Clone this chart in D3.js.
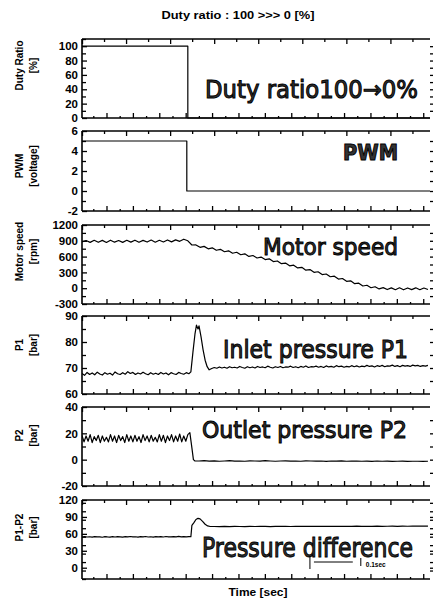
<!DOCTYPE html>
<html><head><meta charset="utf-8">
<script src="https://cdn.jsdelivr.net/npm/d3@7"></script>
<style>body{margin:0;background:#fff}svg{display:block}</style>
</head><body>
<svg id="c" width="433" height="603"></svg>
<script>
// ---------- DATA ----------
const timeDomain = [0, 0.684];           // seconds
const scaleBarT = [0.448, 0.548];         // 0.1 sec bar

const dutyT = [0, 0.208, 0.208, 0.684];
const dutyV = [100, 100, 0, 0];

const pwmT = [0, 0.206, 0.206, 0.684];
const pwmV = [5, 5, 0, 0];

// motor speed sampled every 0.008 s from t=0
const motorDt = 0.008;
const motorV = [880, 905, 870, 910, 872, 908, 868, 912, 874, 906, 870, 910, 875, 912, 872, 908, 876, 914, 874, 910,
  878, 916, 880, 918, 890, 930, 900, 820,
  821, 776, 794, 748, 766, 720, 738, 692, 710, 664, 682, 635, 652, 604, 621, 574, 591, 544, 557, 505, 517, 465,
  477, 425, 437, 385, 396, 343, 354, 301, 312, 259, 270, 217, 228, 174, 184, 130, 140, 86, 96, 42,
  56, 9, 28, -14, 11, -26, 6, -28, 8, -30, 5, -27, 7, -29, 4, -25];

// inlet pressure P1
const p1PreDt = 0.005;
const p1Pre = [67.9, 67.2, 68.3, 67.5, 68.1, 67.4, 68.4, 67.7, 67.3, 68.2, 67.6, 68.0, 67.3, 68.5, 67.8, 67.5, 68.2, 67.6, 68.6, 67.9,
  68.3, 67.5, 68.1, 67.7, 68.4, 67.8, 67.4, 68.2, 67.6, 68.0, 67.5, 68.3, 67.7, 68.1, 67.4, 68.2, 67.8, 67.5, 68.3, 67.9,
  67.6, 68.2, 67.8];
const p1PeakT = [0.214, 0.218, 0.222, 0.225, 0.228, 0.230, 0.234, 0.238, 0.242, 0.246, 0.250];
const p1PeakV = [68.5, 76, 83, 86.5, 85, 86.2, 82, 77, 73, 70.5, 69.3];
const p1PostT0 = 0.255, p1PostDt = 0.005;
const p1Post = [69.8, 70.2, 69.9, 70.4, 70.0, 70.3, 69.9, 70.5, 70.1, 70.3, 70.0, 70.6, 70.2, 69.9, 70.5, 70.1, 70.4, 70.0, 70.6, 70.2,
  70.4, 70.1, 70.7, 70.3, 70.0, 70.5, 70.2, 70.6, 70.1, 70.4, 70.3, 70.7, 70.2, 70.5, 70.1, 70.6, 70.3, 70.8, 70.2, 70.5,
  70.4, 70.7, 70.3, 70.6, 70.2, 70.8, 70.4, 70.6, 70.3, 70.9, 70.5, 70.7, 70.3, 70.6, 70.4, 70.9, 70.5, 70.8, 70.4, 70.7,
  70.5, 71.0, 70.6, 70.8, 70.4, 70.9, 70.6, 71.0, 70.5, 70.8, 70.7, 71.1, 70.6, 70.9, 70.5, 71.0, 70.7, 70.9, 70.6, 71.1,
  70.8, 71.0, 70.6, 70.9, 70.7, 71.0];

// outlet pressure P2
const p2PreDt = 0.004;
const p2Pre = [18.5, 13.5, 18, 14, 19, 13, 17.5, 14.5, 18.5, 13, 18, 14, 17, 13.5, 19, 14, 18, 13, 18.5, 14.5,
  17.5, 13, 19, 14, 18, 13.5, 18.5, 14, 17.5, 13, 19, 14.5, 18, 13.5, 18.5, 14, 17, 13.5, 19, 14,
  18.5, 13, 18, 14.5, 19, 13.5, 18, 14, 19.5, 13.5, 18, 14, 19];
const p2DropT = [0.212, 0.216, 0.219, 0.222];
const p2DropV = [20.5, 9, 0, -1];
const p2PostT0 = 0.23, p2PostDt = 0.01;
const p2Post = [-1.0, -0.8, -1.1, -0.9, -1.2, -1.0, -0.8, -1.1, -1.0, -1.2, -0.9, -1.0, -1.1, -0.8, -1.0, -1.2, -1.0, -0.9, -1.1, -1.0,
  -1.2, -0.9, -1.0, -1.1, -1.0, -1.3, -1.0, -1.1, -0.9, -1.2, -1.1, -1.0, -1.2, -1.1, -1.3, -1.0, -1.2, -1.1, -1.3, -1.2,
  -1.1, -1.3, -1.2, -1.2, -1.3, -1.2];

// pressure difference P1-P2
const dpPreDt = 0.005;
const dpPre = [54.2, 55.0, 54.4, 54.9, 54.1, 55.2, 54.5, 54.8, 54.0, 55.1, 54.6, 54.3, 55.0, 54.4, 55.2, 54.7, 54.2, 55.0, 54.5, 55.3,
  54.6, 54.9, 54.2, 55.1, 54.6, 55.3, 54.4, 54.9, 54.3, 55.2, 54.6, 55.0, 54.4, 55.3, 54.8, 54.5, 55.2, 54.7, 55.4, 54.6,
  55.0, 54.5, 55.1];
const dpPeakT = [0.214, 0.216, 0.220, 0.224, 0.228, 0.232, 0.237, 0.242, 0.247, 0.252];
const dpPeakV = [55, 75, 80, 85.5, 87.5, 86.5, 82, 77, 74, 73];
const dpPostT0 = 0.26, dpPostDt = 0.01;
const dpPost = [73.0, 72.8, 73.1, 72.9, 73.2, 73.0, 72.9, 73.2, 73.0, 73.3, 73.1, 72.9, 73.2, 73.1, 73.3, 73.0, 73.2, 73.4, 73.1, 73.3,
  73.2, 73.5, 73.2, 73.4, 73.3, 73.5, 73.2, 73.4, 73.6, 73.3, 73.5, 73.4, 73.6, 73.3, 73.5, 73.7, 73.4, 73.6, 73.5, 73.7,
  73.6, 73.8, 73.6];

// y tick labels per panel
const dutyTicks = [0, 20, 40, 60, 80, 100];
const pwmTicks = [-2, 0, 2, 4, 6];
const motorTicks = [-300, 0, 300, 600, 900, 1200];
const p1Ticks = [60, 70, 80, 90];
const p2Ticks = [-20, 0, 20, 40];
const dpTicks = [0, 30, 60, 90, 120];

const titleText = "Duty ratio : 100 >>> 0 [%]";
const xTitle = "Time [sec]";

// ---------- HELPERS ----------
const zip = (ts, vs) => ts.map((t, i) => [t, vs[i]]);
const seq = (t0, dt, vs) => vs.map((v, i) => [t0 + i * dt, v]);

const series = {
  duty: [zip(dutyT, dutyV)],
  pwm: [zip(pwmT, pwmV)],
  motor: [seq(0, motorDt, motorV)],
  p1: [seq(0, p1PreDt, p1Pre).concat(zip(p1PeakT, p1PeakV), seq(p1PostT0, p1PostDt, p1Post))],
  p2: [seq(0, p2PreDt, p2Pre).concat(zip(p2DropT, p2DropV), seq(p2PostT0, p2PostDt, p2Post))],
  dp: [seq(0, dpPreDt, dpPre).concat(zip(dpPeakT, dpPeakV), seq(dpPostT0, dpPostDt, dpPost))]
};

// ---------- LAYOUT ----------
const L = 82, R = 430;
const panels = [
  {key: 'duty', top: 39, bottom: 118, domain: [0, 110], ticks: dutyTicks, minorStep: 10, t1: 'Duty Ratio', t2: '[%]', tOff: -13,
   ann: 'Duty ratio100\u21920%', ax: 205, ay: 98, aw: 213, fs: 24, bold: false},
  {key: 'pwm', top: 131, bottom: 211, domain: [-2, 6], ticks: pwmTicks, minorStep: 1, t1: 'PWM', t2: '[voltage]', tOff: -5,
   ann: 'PWM', ax: 343, ay: 160, aw: 55, fs: 20.5, bold: true},
  {key: 'motor', top: 225, bottom: 304, domain: [-300, 1200], ticks: motorTicks, minorStep: 150, t1: 'Motor speed', t2: '[rpm]', tOff: -13,
   ann: 'Motor speed', ax: 263, ay: 255, aw: 135, fs: 23.5, bold: false},
  {key: 'p1', top: 316, bottom: 394, domain: [60, 90], ticks: p1Ticks, minorStep: 5, t1: 'P1', t2: '[bar]', tOff: -10,
   ann: 'Inlet pressure P1', ax: 223, ay: 358, aw: 185, fs: 24.5, bold: false},
  {key: 'p2', top: 407, bottom: 486, domain: [-20, 40], ticks: p2Ticks, minorStep: 10, t1: 'P2', t2: '[bar]', tOff: -11,
   ann: 'Outlet pressure P2', ax: 202, ay: 438, aw: 205, fs: 23.5, bold: false},
  {key: 'dp', top: 500, bottom: 579, domain: [-20, 120], ticks: dpTicks, minorStep: 15, t1: 'P1-P2', t2: '[bar]', tOff: -12,
   ann: 'Pressure difference', ax: 202, ay: 557, aw: 211, fs: 26, bold: false}
];

const svg = d3.select('#c');
const x = d3.scaleLinear().domain(timeDomain).range([L, R]);

const topMajor = d3.range(0, timeDomain[1], 0.0866);
const topMinor = topMajor.map(t => t + 0.0433).filter(t => t < timeDomain[1]);
const botTicks = d3.range(0.0222, timeDomain[1], 0.02594);

svg.append('text').attr('x', 238).attr('y', 19).attr('text-anchor', 'middle')
  .attr('font-family', 'Liberation Sans, Arial, sans-serif').attr('font-weight', 'bold').attr('font-size', 11)
  .attr('textLength', 153).attr('lengthAdjust', 'spacingAndGlyphs').text(titleText);

panels.forEach((p, i) => {
  const y = d3.scaleLinear().domain(p.domain).range([p.bottom, p.top]);
  const g = svg.append('g');
  const cid = 'clip' + i;
  svg.append('clipPath').attr('id', cid).append('rect')
    .attr('x', L).attr('y', p.top - 1).attr('width', R - L).attr('height', p.bottom - p.top + 2);

  // data
  series[p.key].forEach(s => {
    g.append('path').attr('d', d3.line().x(d => x(d[0])).y(d => y(d[1]))(s))
      .attr('fill', 'none').attr('stroke', '#000').attr('stroke-width', 1.2)
      .attr('stroke-linejoin', 'round').attr('clip-path', `url(#${cid})`);
  });

  // minor y ticks
  const minor = d3.range(p.domain[0], p.domain[1] + 1e-9, p.minorStep).filter(v => !p.ticks.includes(v));
  const allY = p.ticks.concat(minor);

  // left ticks (inward)
  const la = g.append('g').attr('transform', `translate(${L},0)`)
    .call(d3.axisRight(y).tickValues(allY).tickSize(4).tickFormat(''));
  la.select('.domain').remove();
  la.selectAll('line').attr('stroke', '#000').attr('stroke-width', 1.3);
  la.selectAll('.tick').filter(d => p.ticks.includes(d)).select('line').attr('x2', 5);

  // right ticks
  const ra = g.append('g').attr('transform', `translate(${R + 3},0)`)
    .call(d3.axisLeft(y).tickValues(allY.filter(v => v > p.domain[0] && v < p.domain[1])).tickSize(3).tickFormat(''));
  ra.select('.domain').remove();
  ra.selectAll('line').attr('stroke', '#000').attr('stroke-width', 1.3);

  // y labels
  const lab = g.append('g').attr('transform', `translate(${L},0)`)
    .call(d3.axisLeft(y).tickValues(p.ticks).tickSize(0).tickPadding(4).tickFormat(d => String(d)));
  lab.select('.domain').remove();
  lab.selectAll('text').attr('font-family', 'Liberation Sans, Arial, sans-serif')
    .attr('font-weight', 'bold').attr('font-size', 11.5).attr('fill', '#000');

  // top ticks (pointing down)
  const ta = g.append('g').attr('transform', `translate(0,${p.top})`)
    .call(d3.axisBottom(x).tickValues(topMajor.concat(topMinor)).tickSize(5).tickFormat(''));
  ta.select('.domain').remove();
  ta.selectAll('line').attr('stroke', '#000').attr('stroke-width', 1.3);
  ta.selectAll('.tick').filter(d => topMinor.includes(d)).select('line').attr('y2', 3);

  // bottom ticks (pointing up)
  const ba = g.append('g').attr('transform', `translate(0,${p.bottom})`)
    .call(d3.axisTop(x).tickValues(botTicks).tickSize(5).tickFormat(''));
  ba.select('.domain').remove();
  ba.selectAll('line').attr('stroke', '#000').attr('stroke-width', 1.3);
  ba.selectAll('.tick').filter((d, j) => j % 2 === 0).select('line').attr('y2', -2);

  // frame
  g.append('line').attr('x1', L).attr('x2', R).attr('y1', p.top).attr('y2', p.top).attr('stroke', '#000').attr('stroke-width', 1.6);
  g.append('line').attr('x1', L).attr('x2', R).attr('y1', p.bottom).attr('y2', p.bottom).attr('stroke', '#000').attr('stroke-width', 1.6);
  g.append('line').attr('x1', L).attr('x2', L).attr('y1', p.top).attr('y2', p.bottom).attr('stroke', '#000').attr('stroke-width', 1.6);

  // y titles
  const cy = (p.top + p.bottom) / 2 + p.tOff;
  [[p.t1, 19], [p.t2, 33]].forEach(([t, tx]) => {
    g.append('text').attr('transform', `translate(${tx},${cy}) rotate(-90)`)
      .attr('text-anchor', 'middle').attr('dominant-baseline', 'central')
      .attr('font-family', 'Liberation Sans, Arial, sans-serif').attr('font-weight', 'bold').attr('font-size', 10)
      .text(t);
  });

  // annotation
  g.append('text').attr('x', p.ax).attr('y', p.ay)
    .attr('font-family', 'DejaVu Sans, Verdana, sans-serif').attr('font-size', p.fs)
    .attr('font-weight', p.bold ? 'bold' : 'normal')
    .attr('fill', '#333').attr('stroke', '#000').attr('stroke-width', 1)
    .attr('textLength', p.aw).attr('lengthAdjust', 'spacingAndGlyphs').text(p.ann);

  // scale bar in last panel
  if (p.key === 'dp') {
    const x0 = x(scaleBarT[0]), x1 = x(scaleBarT[1]);
    g.append('line').attr('x1', x0).attr('x2', x0).attr('y1', 556).attr('y2', 569).attr('stroke', '#000').attr('stroke-width', 1);
    g.append('line').attr('x1', x1).attr('x2', x1).attr('y1', 558).attr('y2', 566).attr('stroke', '#000').attr('stroke-width', 1);
    g.append('line').attr('x1', x0 + 4).attr('x2', x1 - 8).attr('y1', 562).attr('y2', 562).attr('stroke', '#000').attr('stroke-width', 1);
    g.append('text').attr('x', x1 + 5).attr('y', 567).attr('font-family', 'Liberation Sans, Arial, sans-serif')
      .attr('font-weight', 'bold').attr('font-size', 6.5).text('0.1sec');
  }
});

svg.append('text').attr('x', 258).attr('y', 596).attr('text-anchor', 'middle')
  .attr('font-family', 'Liberation Sans, Arial, sans-serif').attr('font-weight', 'bold').attr('font-size', 11.5)
  .attr('textLength', 59).attr('lengthAdjust', 'spacingAndGlyphs').text(xTitle);
</script>
</body></html>
